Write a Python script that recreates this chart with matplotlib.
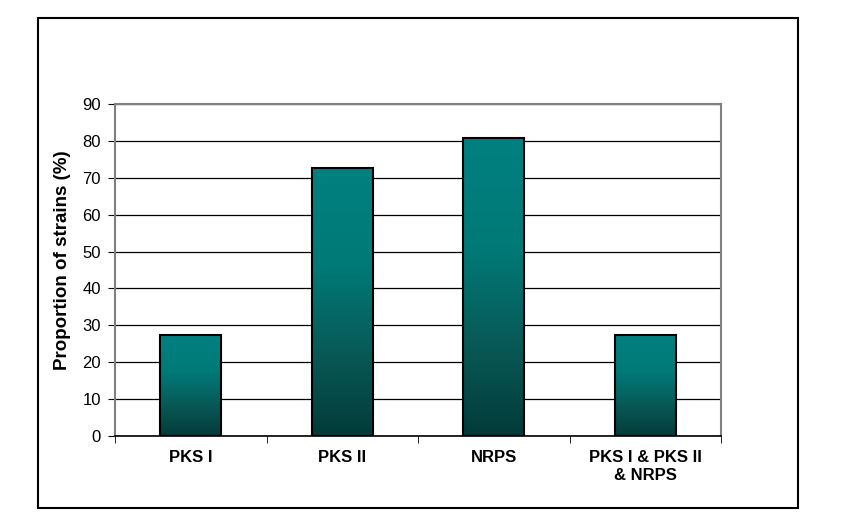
import matplotlib
matplotlib.use('Agg')
import matplotlib.pyplot as plt
import numpy as np
from matplotlib.colors import LinearSegmentedColormap
from matplotlib.patches import Rectangle

categories = ['PKS I', 'PKS II', 'NRPS', 'PKS I & PKS II\n& NRPS']
values = [27.3, 72.7, 80.8, 27.3]
yticks = [0, 10, 20, 30, 40, 50, 60, 70, 80, 90]

plt.rcParams['font.family'] = ['Liberation Sans', 'DejaVu Sans']

fig = plt.figure(figsize=(8.54, 5.30), dpi=100)
ax = fig.add_axes([115/854, 1-436/530, (721-115)/854, (436-104)/530])

# outer chart frame
fig.patches.append(Rectangle((38/854, 1-508/530), (798-38)/854, (508-18)/530,
                             transform=fig.transFigure, fill=False,
                             edgecolor='black', linewidth=1.5))

x = np.arange(len(categories))
bars = ax.bar(x, values, width=0.4, color='none', edgecolor='black',
              linewidth=1.5, zorder=3)

cmap = LinearSegmentedColormap.from_list('teal', ['#023a38', '#085855', '#007a77', '#008080'])
grad = np.linspace(0, 1, 256).reshape(-1, 1) ** 0.9
for b in bars:
    x0, y0 = b.get_x(), b.get_y()
    w, h = b.get_width(), b.get_height()
    im = ax.imshow(grad, cmap=cmap, origin='lower', aspect='auto',
                   extent=(x0, x0 + w, y0, y0 + h), zorder=2)
    im.set_clip_path(b)

ax.set_xlim(-0.5, len(categories) - 0.5)
ax.set_ylim(0, 90)
ax.set_yticks(yticks)
ax.set_yticklabels([str(v) for v in yticks], fontsize=12)
ax.yaxis.grid(True, color='black', linewidth=0.9, zorder=1)
ax.set_axisbelow(True)

ax.set_xticks(x)
ax.set_xticklabels(categories, fontsize=12, fontweight='bold', linespacing=1.25)
ax.tick_params(axis='x', length=0, pad=10)
ax.set_xticks(np.arange(len(categories) + 1) - 0.5, minor=True)
ax.tick_params(axis='x', which='minor', length=5, color='black', direction='out')
ax.tick_params(axis='y', length=5, color='black', direction='out', pad=5)

ax.set_ylabel('Proportion of strains (%)', fontsize=13.5, fontweight='bold')
ax.yaxis.set_label_coords(-0.072, 0.53)

for s in ['left', 'right', 'top']:
    ax.spines[s].set_color('#808080')
    ax.spines[s].set_linewidth(1.5)
ax.spines['bottom'].set_color('black')
ax.spines['bottom'].set_linewidth(1.2)

plt.savefig('out.png', dpi=100)
